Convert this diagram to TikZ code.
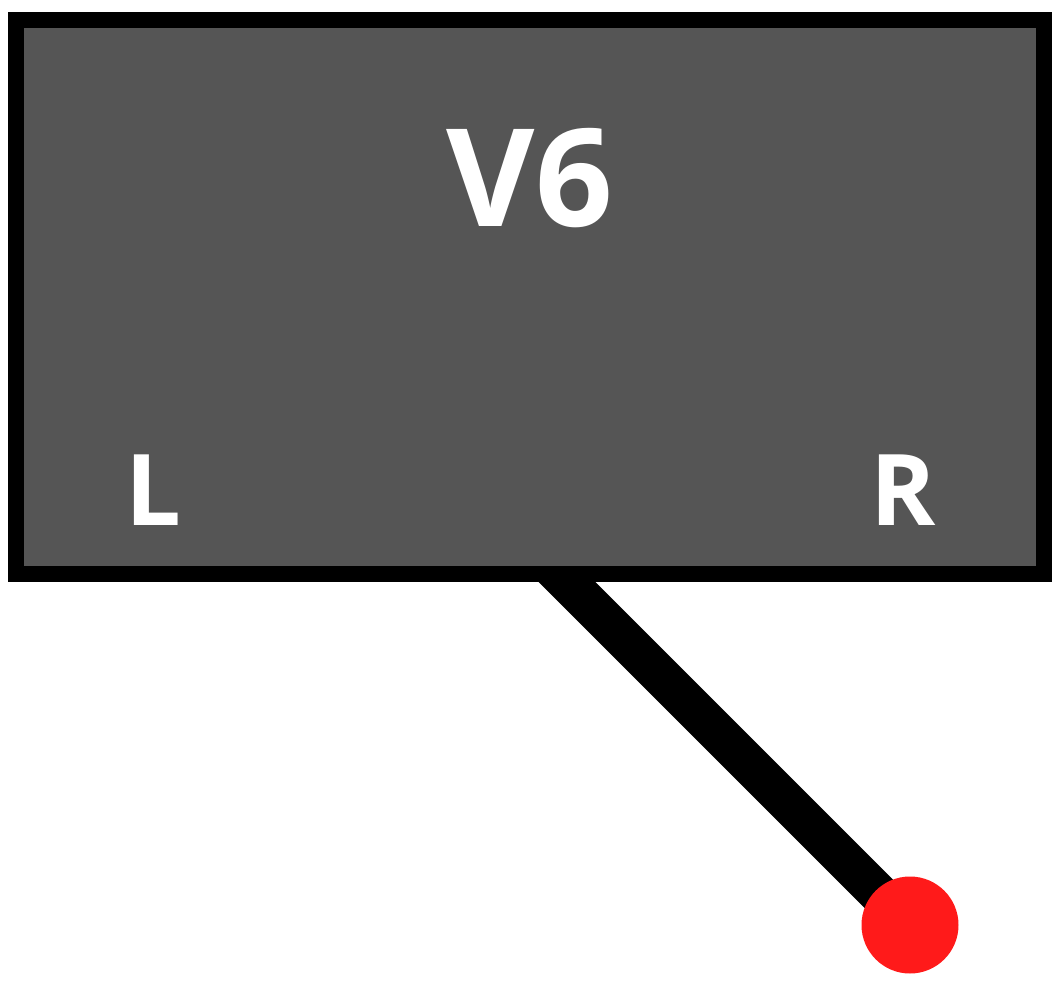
\documentclass[tikz,border=0pt]{standalone}
\usepackage{fontspec}
\setmainfont{Open Sans}
\usetikzlibrary{backgrounds}
\definecolor{boxgray}{RGB}{85,85,85}
\definecolor{pinred}{RGB}{255,26,26}
\newcommand{\titlesize} {\bfseries\fontsize{136}{136}\selectfont}
\newcommand{\sidesize}  {\bfseries\fontsize{99}{99}\selectfont}

\begin{document}
\begin{tikzpicture}[x=1pt,y=-1pt]
   \useasboundingbox (0,0) rectangle (1058,985);
   \node[draw=black,line width=16pt,fill=boxgray,inner sep=0pt,
         minimum width=1028pt,minimum height=554pt] (box) at (530,297) {};
   \node[text=white,anchor=base,inner sep=0pt] (name) at (530,226) {\titlesize V6};
   \node[text=white,anchor=base,inner sep=0pt] (left) at (153,525) {\sidesize L};
   \node[text=white,anchor=base,inner sep=0pt] (right) at (903,525) {\sidesize R};
   \coordinate (stem) at (530,545);
   \node[circle,fill=pinred,inner sep=0pt,minimum size=97pt] (pin) at (910,925) {};
   \begin{scope}[on background layer]
   \draw[line width=40pt] (stem) -- (pin.center);
   \end{scope}
  \end{tikzpicture}
\end{document}
